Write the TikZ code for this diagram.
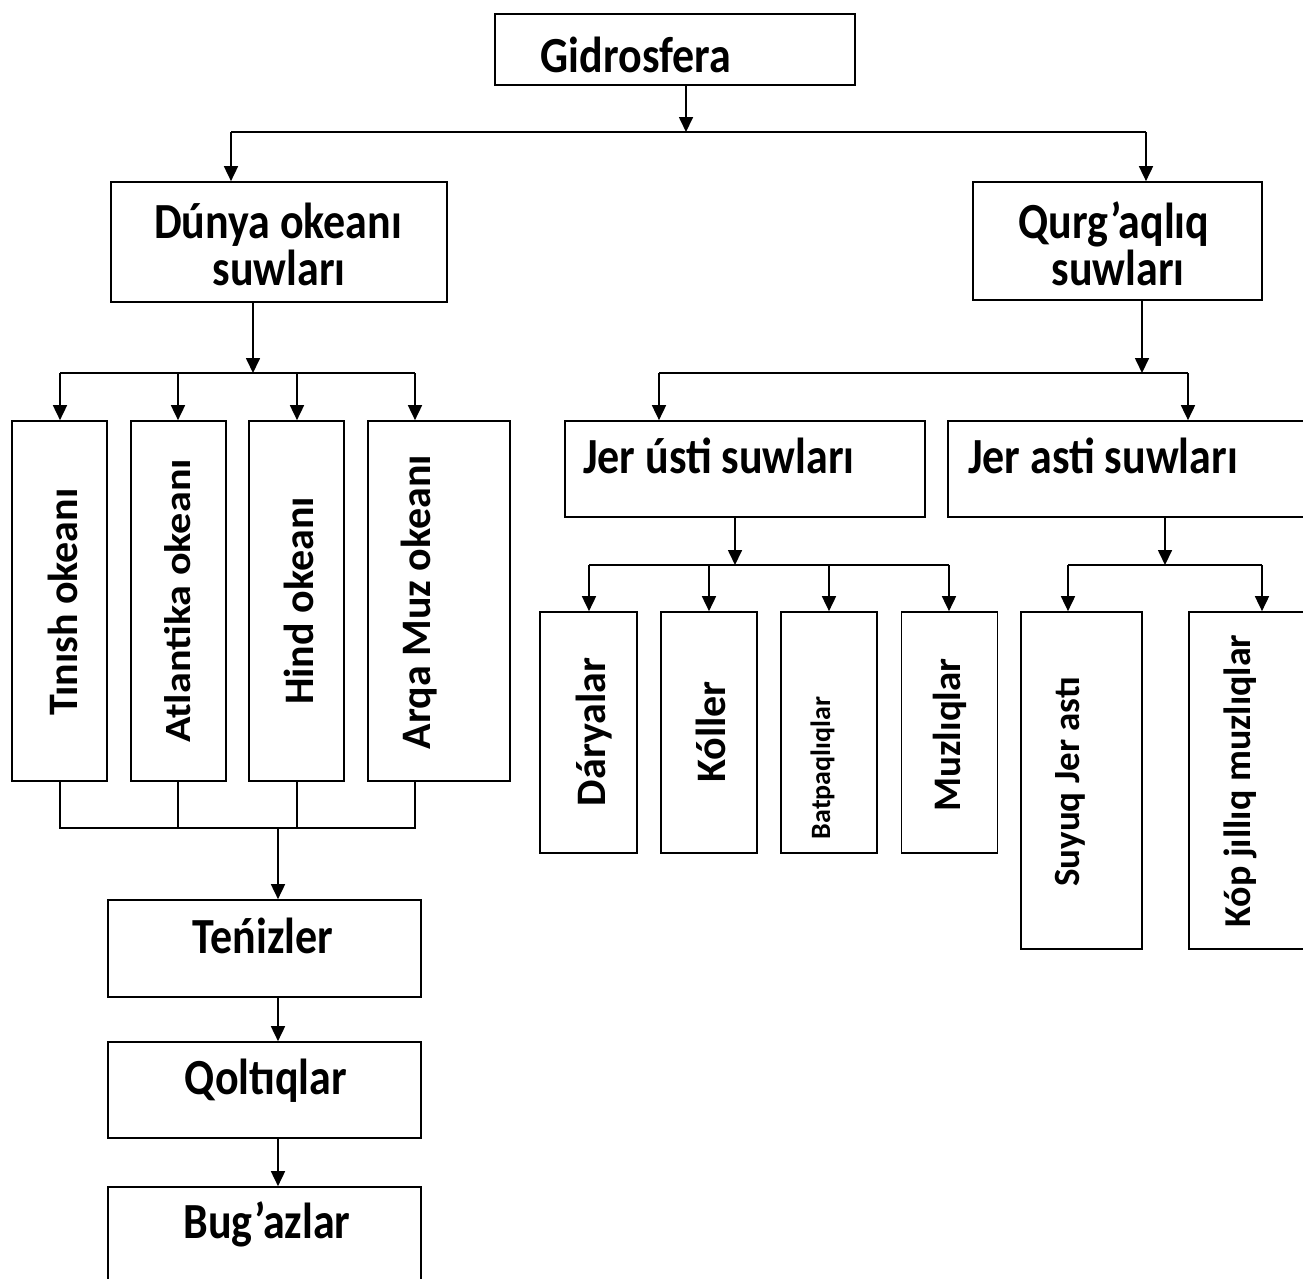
\documentclass[tikz,border=0pt]{standalone}
\usepackage{fontspec}
\usepackage{graphicx}
\setmainfont{Carlito}
\usetikzlibrary{arrows.meta}
\newcommand{\tallt}[1]{\scalebox{1}[1.15]{#1}}
\begin{document}
\begin{tikzpicture}[x=1pt,y=-1pt,
  box/.style={draw=black,line width=1.7pt,inner sep=0pt,minimum width=#1},
  lbl/.style={font=\bfseries\fontsize{44}{50}\selectfont,inner sep=0pt,anchor=base},
  vlbl/.style={font=\bfseries\fontsize{#1}{#1}\selectfont,inner sep=0pt,anchor=base,rotate=90},
  ln/.style={line width=1.7pt},
  arr/.style={line width=1.7pt,-{Triangle[length=15pt,width=14pt]}}]
\useasboundingbox (0,0) rectangle (1303,1278);
\clip (0,0) rectangle (1303,1278);
% boxes
\node[box=360pt,minimum height=71pt] (g) at (675,49.5) {};
\node[box=336pt,minimum height=120pt] (d) at (279,242) {};
\node[box=289pt,minimum height=118pt] (q) at (1117.5,241) {};
\node[box=95pt,minimum height=360pt] (o1) at (59.5,601) {};
\node[box=95pt,minimum height=360pt] (o2) at (178.5,601) {};
\node[box=95pt,minimum height=360pt] (o3) at (296.5,601) {};
\node[box=142pt,minimum height=360pt] (o4) at (439,601) {};
\node[box=313pt,minimum height=97pt] (t) at (264.5,948.5) {};
\node[box=313pt,minimum height=96pt] (ql) at (264.5,1090) {};
\node[box=313pt,minimum height=110pt] (b) at (264.5,1242) {};
\node[box=360pt,minimum height=96pt] (ju) at (745,469) {};
\node[box=380pt,minimum height=96pt] (ja) at (1138,469) {};
\node[box=97pt,minimum height=241pt] (r1) at (588.5,732.5) {};
\node[box=96pt,minimum height=241pt] (r2) at (709,732.5) {};
\node[box=96pt,minimum height=241pt] (r3) at (829,732.5) {};
\node[box=96pt,minimum height=241pt] (r4) at (949.5,732.5) {};
\node[box=121pt,minimum height=337pt] (s1) at (1081.5,780.5) {};
\node[box=140pt,minimum height=337pt] (s2) at (1259,780.5) {};
% labels
\node[lbl] (gl) at (636,72) {\tallt{Gidrosfera}};
\node[lbl] (dl1) at (278,238) {\tallt{Dúnya okeanı}};
\node[lbl] (dl2) at (279,285) {\tallt{suwları}};
\node[lbl] (ql1) at (1114,238) {\tallt{Qurg’aqlıq}};
\node[lbl] (ql2) at (1118,285) {\tallt{suwları}};
\node[lbl,anchor=base west] (jul) at (583,473) {\tallt{Jer ústi suwları}};
\node[lbl,anchor=base west] (jal) at (968,473) {\tallt{Jer asti suwları}};
\node[lbl] (tl) at (263,953) {\tallt{Teńizler}};
\node[lbl] (qll) at (266,1094) {\tallt{Qoltıqlar}};
\node[lbl] (bl) at (267,1238) {\tallt{Bug’azlar}};
\node[vlbl=42] (o1l) at (77,602) {Tınısh okeanı};
\node[vlbl=37] (o2l) at (190,601) {\scalebox{1.14}[1]{Atlantika okeanı}};
\node[vlbl=42] (o3l) at (313,601) {Hind okeanı};
\node[vlbl=42] (o4l) at (430,602) {Arqa Muz okeanı};
\node[vlbl=42] (r1l) at (605,732) {Dáryalar};
\node[vlbl=42] (r2l) at (725,732) {Kóller};
\node[vlbl=28] (r3l) at (830,768) {Batpaqlıqlar};
\node[vlbl=39] (r4l) at (960,735) {Muzlıqlar};
\node[vlbl=37] (s1l) at (1079,782) {Suyuq Jer astı};
\node[vlbl=38] (s2l) at (1250,781) {Kóp jıllıq muzlıqlar};
% bus coordinates
\coordinate (b0) at (686,132);
\coordinate (b1) at (253,373);
\coordinate (b2) at (278,828);
\coordinate (b3) at (1142,373);
\coordinate (b4) at (735,565);
\coordinate (b5) at (1165,565);
% connectors
\draw[arr] (g.south -| b0) -- (b0);
\draw[ln] (b0 -| 231,0) -- (b0 -| 1146,0);
\draw[arr] (b0 -| 231,0) -- (d.north -| 231,0);
\draw[arr] (b0 -| 1146,0) -- (q.north -| 1146,0);
\draw[arr] (d.south -| b1) -- (b1);
\draw[ln] (b1 -| 60,0) -- (b1 -| 415,0);
\draw[arr] (b1 -| 60,0) -- (o1.north -| 60,0);
\draw[arr] (b1 -| 178,0) -- (o2.north -| 178,0);
\draw[arr] (b1 -| 297,0) -- (o3.north -| 297,0);
\draw[arr] (b1 -| 415,0) -- (o4.north -| 415,0);
\draw[ln] (o1.south -| 60,0) -- (b2 -| 60,0) -- (b2 -| 415,0) -- (o4.south -| 415,0);
\draw[ln] (o2.south -| 178,0) -- (b2 -| 178,0);
\draw[ln] (o3.south -| 297,0) -- (b2 -| 297,0);
\draw[arr] (b2) -- (t.north -| b2);
\draw[arr] (t.south -| b2) -- (ql.north -| b2);
\draw[arr] (ql.south -| b2) -- (b.north -| b2);
\draw[arr] (q.south -| b3) -- (b3);
\draw[ln] (b3 -| 659,0) -- (b3 -| 1188,0);
\draw[arr] (b3 -| 659,0) -- (ju.north -| 659,0);
\draw[arr] (b3 -| 1188,0) -- (ja.north -| 1188,0);
\draw[arr] (ju.south -| b4) -- (b4);
\draw[ln] (b4 -| 589,0) -- (b4 -| 949,0);
\draw[arr] (b4 -| 589,0) -- (r1.north -| 589,0);
\draw[arr] (b4 -| 709,0) -- (r2.north -| 709,0);
\draw[arr] (b4 -| 829,0) -- (r3.north -| 829,0);
\draw[arr] (b4 -| 949,0) -- (r4.north -| 949,0);
\draw[arr] (ja.south -| b5) -- (b5);
\draw[ln] (b5 -| 1068,0) -- (b5 -| 1262,0);
\draw[arr] (b5 -| 1068,0) -- (s1.north -| 1068,0);
\draw[arr] (b5 -| 1262,0) -- (s2.north -| 1262,0);
\end{tikzpicture}
\end{document}
